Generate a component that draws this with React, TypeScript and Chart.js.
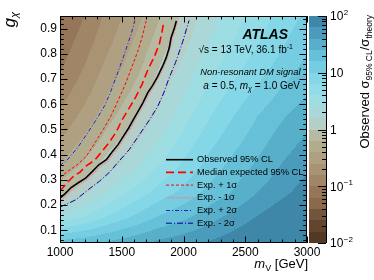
import React, { useEffect, useRef } from 'react';
import { Chart, registerables } from 'chart.js';

Chart.register(...registerables);

const FONT = '"Liberation Sans", Arial, Helvetica, sans-serif';

// Heat-map grid (observed sigma95 / sigma_theory)
const M_GRID = [1000, 1200, 1400, 1600, 1800, 2000, 2200, 2400, 2600, 2800, 3000];
const G_GRID = [0.05, 0.15, 0.25, 0.35, 0.45, 0.55, 0.65, 0.75, 0.85, 0.95];
const RATIO_G005 = [20, 23, 28, 35, 45, 54, 66, 83, 105, 126, 158];
const RATIO_G015 = [2.8, 4.2, 7.1, 11, 17, 23, 33, 47, 66, 91, 120];
const RATIO_G025 = [0.85, 1.45, 2.7, 4.6, 7.6, 11.5, 18, 26, 40, 56, 79];
const RATIO_G035 = [0.44, 0.74, 1.38, 2.3, 4.2, 7.1, 12, 19, 28, 42, 58];
const RATIO_G045 = [0.26, 0.45, 0.83, 1.45, 2.6, 4.8, 8.5, 13.5, 21, 32, 44];
const RATIO_G055 = [0.17, 0.3, 0.56, 0.95, 1.8, 3.3, 6.0, 10, 16, 24, 33];
const RATIO_G065 = [0.126, 0.21, 0.4, 0.69, 1.3, 2.4, 4.4, 7.1, 11, 17, 24];
const RATIO_G075 = [0.093, 0.16, 0.3, 0.51, 0.98, 1.8, 3.3, 5.2, 7.9, 12, 18];
const RATIO_G085 = [0.074, 0.126, 0.23, 0.41, 0.76, 1.35, 2.5, 4.0, 6.0, 9.3, 14];
const RATIO_G095 = [0.059, 0.1, 0.19, 0.32, 0.6, 1.1, 2.0, 3.2, 4.8, 7.6, 11];
const RATIO_ROWS = [RATIO_G005, RATIO_G015, RATIO_G025, RATIO_G035, RATIO_G045,
  RATIO_G055, RATIO_G065, RATIO_G075, RATIO_G085, RATIO_G095];

// Contours
const OBS_M = [1000, 1040, 1090, 1145, 1210, 1265, 1315, 1375, 1420, 1470, 1515, 1555, 1595, 1630, 1670, 1710, 1750, 1790, 1830, 1860, 1885, 1900, 1925, 1942];
const OBS_G = [0.228, 0.245, 0.27, 0.288, 0.308, 0.335, 0.36, 0.38, 0.41, 0.44, 0.475, 0.505, 0.54, 0.57, 0.605, 0.645, 0.675, 0.71, 0.75, 0.785, 0.825, 0.865, 0.9, 0.93];
const MED_M = [1000, 1050, 1110, 1160, 1210, 1280, 1335, 1400, 1455, 1505, 1560, 1615, 1665, 1710, 1765, 1805, 1825, 1842];
const MED_G = [0.256, 0.285, 0.315, 0.33, 0.355, 0.378, 0.41, 0.45, 0.49, 0.54, 0.585, 0.63, 0.68, 0.735, 0.79, 0.84, 0.885, 0.93];
const P1_M = [1000, 1065, 1145, 1215, 1280, 1350, 1415, 1470, 1525, 1580, 1630, 1670, 1697];
const P1_G = [0.31, 0.335, 0.362, 0.395, 0.445, 0.5, 0.556, 0.615, 0.675, 0.745, 0.81, 0.875, 0.93];
const M1_M = [1000, 1045, 1095, 1150, 1215, 1270, 1320, 1380, 1425, 1478, 1522, 1565, 1605, 1640, 1680, 1720, 1760, 1800, 1840, 1870, 1895, 1910, 1935, 1952];
const M1_G = [0.215, 0.235, 0.26, 0.28, 0.3, 0.325, 0.35, 0.372, 0.4, 0.432, 0.468, 0.5, 0.535, 0.565, 0.6, 0.64, 0.672, 0.708, 0.748, 0.785, 0.825, 0.865, 0.9, 0.93];
const P2_M = [1000, 1065, 1146, 1228, 1295, 1362, 1410, 1460, 1515, 1550, 1580, 1606];
const P2_G = [0.357, 0.383, 0.43, 0.49, 0.54, 0.595, 0.65, 0.715, 0.79, 0.84, 0.885, 0.932];
const M2_M = [1000, 1050, 1130, 1230, 1320, 1400, 1470, 1560, 1630, 1720, 1790, 1840, 1880, 1935, 1995, 2025, 2045];
const M2_G = [0.193, 0.203, 0.222, 0.262, 0.295, 0.33, 0.37, 0.42, 0.47, 0.535, 0.59, 0.645, 0.7, 0.765, 0.85, 0.9, 0.932];

const X_TICKS = [1000, 1500, 2000, 2500, 3000];
const X_TICK_LABELS = ['1000', '1500', '2000', '2500', '3000'];
const Y_TICKS = [0.1, 0.2, 0.3, 0.4, 0.5, 0.6, 0.7, 0.8, 0.9];
const Y_TICK_LABELS = ['0.1', '0.2', '0.3', '0.4', '0.5', '0.6', '0.7', '0.8', '0.9'];
const Z_TICKS = [0.01, 0.1, 1, 10, 100];
const Z_TICK_BASE = ['10', '10', '1', '10', '10'];
const Z_TICK_EXP = ['\u22122', '\u22121', '', '', '2'];

const PALETTE = [
  [82, 57, 37], [98, 69, 46], [115, 85, 60], [138, 105, 77], [150, 118, 89],
  [160, 133, 102], [168, 147, 114], [174, 160, 128], [178, 172, 143], [183, 186, 162],
  [182, 206, 200], [170, 216, 216], [158, 221, 226], [145, 220, 230], [132, 215, 230],
  [118, 205, 225], [102, 192, 215], [88, 175, 202], [75, 155, 188], [62, 135, 168],
];
const Z_MIN_LOG = -2;
const Z_STEP = 0.2;

function findCell(arr: number[], v: number) {
  let i = 0;
  while (i < arr.length - 2 && v > arr[i + 1]) i++;
  let t = (v - arr[i]) / (arr[i + 1] - arr[i]);
  t = Math.max(0, Math.min(1, t));
  return [i, t];
}

function logRatioAt(m: number, g: number) {
  const [i, tx] = findCell(M_GRID, m);
  const [j, ty] = findCell(G_GRID, g);
  const a = Math.log10(RATIO_ROWS[j][i]);
  const b = Math.log10(RATIO_ROWS[j][i + 1]);
  const c = Math.log10(RATIO_ROWS[j + 1][i]);
  const d = Math.log10(RATIO_ROWS[j + 1][i + 1]);
  return (a * (1 - tx) + b * tx) * (1 - ty) + (c * (1 - tx) + d * tx) * ty;
}

function bandColor(lv: number) {
  let k = Math.floor((lv - Z_MIN_LOG) / Z_STEP);
  k = Math.max(0, Math.min(PALETTE.length - 1, k));
  const c = PALETTE[k];
  return `rgb(${c[0]},${c[1]},${c[2]})`;
}

type Seg = { t: string; size: number; italic?: boolean; bold?: boolean; dy?: number };

function segFont(s: Seg) {
  return `${s.italic ? 'italic ' : ''}${s.bold ? 'bold ' : ''}${s.size}px ${FONT}`;
}

function drawRich(ctx: CanvasRenderingContext2D, segs: Seg[], xEnd: number, y: number) {
  let total = 0;
  const widths = segs.map((s) => {
    ctx.font = segFont(s);
    const w = ctx.measureText(s.t).width;
    total += w;
    return w;
  });
  let x = xEnd - total;
  ctx.textAlign = 'left';
  ctx.textBaseline = 'alphabetic';
  segs.forEach((s, i) => {
    ctx.font = segFont(s);
    ctx.fillText(s.t, x, y + (s.dy || 0));
    x += widths[i];
  });
}

const heatmapPlugin = {
  id: 'heatmap',
  beforeDatasetsDraw(chart: any) {
    const { ctx, chartArea, scales } = chart;
    const x = scales.x;
    const y = scales.y;
    const L = Math.round(chartArea.left), R = Math.round(chartArea.right);
    const T = Math.round(chartArea.top), B = Math.round(chartArea.bottom);
    ctx.save();
    for (let py = T; py < B; py++) {
      const g = y.getValueForPixel(py + 0.5);
      let runStart = L;
      let runColor = '';
      for (let px = L; px <= R; px++) {
        let col = '';
        if (px < R) {
          const m = x.getValueForPixel(px + 0.5);
          col = bandColor(logRatioAt(m, g));
        }
        if (col !== runColor) {
          if (runColor) {
            ctx.fillStyle = runColor;
            ctx.fillRect(runStart, py, px - runStart, 1);
          }
          runColor = col;
          runStart = px;
        }
      }
    }
    ctx.restore();
  },
};

const decorPlugin = {
  id: 'decor',
  afterDatasetsDraw(chart: any) {
    const { ctx, chartArea, scales } = chart;
    const x = scales.x, y = scales.y, z = scales.z;
    const L = Math.round(chartArea.left), R = Math.round(chartArea.right);
    const T = Math.round(chartArea.top), B = Math.round(chartArea.bottom);
    ctx.save();
    ctx.strokeStyle = '#000';
    ctx.lineWidth = 1;
    ctx.setLineDash([]);
    // frame
    ctx.strokeRect(L + 0.5, T + 0.5, R - L - 1, B - T - 1);
    ctx.beginPath();
    // x ticks
    for (let v = 1000; v <= 3000; v += 100) {
      const px = Math.round(x.getPixelForValue(v)) + 0.5;
      const len = v % 500 === 0 ? 6.5 : 3.5;
      ctx.moveTo(px, B); ctx.lineTo(px, B - len);
      ctx.moveTo(px, T); ctx.lineTo(px, T + len);
    }
    // y ticks
    for (let k = 3; k <= 47; k++) {
      const v = k * 0.02;
      const py = Math.round(y.getPixelForValue(v)) + 0.5;
      const len = k % 5 === 0 ? 7.5 : 3.8;
      ctx.moveTo(L, py); ctx.lineTo(L + len, py);
      ctx.moveTo(R, py); ctx.lineTo(R - len, py);
    }
    ctx.stroke();

    // colour bar
    const cbL = 309, cbR = 326;
    for (let k = 0; k < PALETTE.length; k++) {
      const y0 = z.getPixelForValue(Math.pow(10, Z_MIN_LOG + Z_STEP * k));
      const y1 = z.getPixelForValue(Math.pow(10, Z_MIN_LOG + Z_STEP * (k + 1)));
      const c = PALETTE[k];
      ctx.fillStyle = `rgb(${c[0]},${c[1]},${c[2]})`;
      ctx.fillRect(cbL, Math.round(y1), cbR - cbL, Math.round(y0) - Math.round(y1));
    }
    ctx.beginPath();
    ctx.strokeStyle = '#000';
    ctx.moveTo(cbR + 0.5, T); ctx.lineTo(cbR + 0.5, B);
    for (let e = -2; e < 2; e++) {
      for (let mlt = 1; mlt < 10; mlt++) {
        const v = mlt * Math.pow(10, e);
        const py = Math.round(z.getPixelForValue(v)) + 0.5;
        const len = mlt === 1 ? 8 : 4;
        ctx.moveTo(cbR, py); ctx.lineTo(cbR - len, py);
      }
    }
    const pyTop = Math.round(z.getPixelForValue(100)) + 0.5;
    ctx.moveTo(cbR, pyTop); ctx.lineTo(cbR - 8, pyTop);
    ctx.stroke();

    // colour bar labels
    ctx.fillStyle = '#000';
    Z_TICKS.forEach((v, i) => {
      const py = z.getPixelForValue(v);
      ctx.font = `12px ${FONT}`;
      ctx.textAlign = 'left';
      ctx.textBaseline = 'middle';
      ctx.fillText(Z_TICK_BASE[i], 330, py + 1);
      const w = ctx.measureText(Z_TICK_BASE[i]).width;
      if (Z_TICK_EXP[i]) {
        ctx.font = `8px ${FONT}`;
        ctx.fillText(Z_TICK_EXP[i], 330 + w + 0.5, py - 3.5);
      }
    });

    // colour bar title (rotated)
    ctx.save();
    ctx.translate(369, 15);
    ctx.rotate(-Math.PI / 2);
    drawRich(ctx, [
      { t: 'Observed ', size: 13 },
      { t: '\u03c3', size: 13 },
      { t: '95% CL', size: 8.5, dy: 3 },
      { t: '/', size: 13 },
      { t: '\u03c3', size: 13 },
      { t: 'theory', size: 8.5, dy: 3 },
    ], 0, 0);
    ctx.restore();

    // y title
    ctx.save();
    ctx.translate(15, 12);
    ctx.rotate(-Math.PI / 2);
    drawRich(ctx, [
      { t: 'g', size: 17, italic: true },
      { t: '\u03c7', size: 11, italic: true, dy: 3 },
    ], 0, 0);
    ctx.restore();

    // x title
    drawRich(ctx, [
      { t: 'm', size: 13, italic: true },
      { t: 'V', size: 9, dy: 3 },
      { t: ' [GeV]', size: 13 },
    ], 308, 268);

    // labels
    drawRich(ctx, [{ t: 'ATLAS', size: 14, italic: true, bold: true }], 288, 39);
    drawRich(ctx, [
      { t: '\u221as = 13 TeV, 36.1 fb', size: 10 },
      { t: '-1', size: 7, dy: -4 },
    ], 293, 52.5);
    drawRich(ctx, [{ t: 'Non-resonant DM signal', size: 9.3, italic: true }], 300.5, 75);
    drawRich(ctx, [
      { t: 'a', size: 10, italic: true },
      { t: ' = 0.5, ', size: 10 },
      { t: 'm', size: 10, italic: true },
      { t: '\u03c7', size: 7, italic: true, dy: 2 },
      { t: ' = 1.0 GeV', size: 10 },
    ], 300, 89);

    // legend
    chart.data.datasets.forEach((ds: any, i: number) => {
      const ly = 159.7 + i * 12.7;
      ctx.beginPath();
      ctx.strokeStyle = ds.borderColor;
      ctx.lineWidth = ds.borderWidth;
      ctx.setLineDash(ds.borderDash || []);
      ctx.moveTo(166, ly); ctx.lineTo(193, ly);
      ctx.stroke();
      ctx.setLineDash([]);
      ctx.fillStyle = '#000';
      ctx.font = `9.3px ${FONT}`;
      ctx.textAlign = 'left';
      ctx.textBaseline = 'middle';
      ctx.fillText(ds.label, 197, ly);
    });
    ctx.restore();
  },
};

function toPoints(ms: number[], gs: number[]) {
  return ms.map((m, i) => ({ x: m, y: gs[i] }));
}

export default function App() {
  const ref = useRef<HTMLCanvasElement | null>(null);
  useEffect(() => {
    document.body.style.margin = '0';
    const canvas = ref.current;
    if (!canvas) return;
    const lineDs = (label: string, ms: number[], gs: number[], color: string, width: number, dash: number[]) => ({
      label,
      data: toPoints(ms, gs),
      showLine: true,
      borderColor: color,
      backgroundColor: color,
      borderWidth: width,
      borderDash: dash,
      pointRadius: 0,
      fill: false,
      tension: 0,
    });
    const chart = new Chart(canvas, {
      type: 'scatter',
      data: {
        datasets: [
          lineDs('Observed 95% CL', OBS_M, OBS_G, '#000000', 1.6, []),
          lineDs('Median expected 95% CL', MED_M, MED_G, '#ff0000', 1.6, [8, 4]),
          lineDs('Exp. + 1\u03c3', P1_M, P1_G, '#ff0000', 1, [3, 2]),
          lineDs('Exp. - 1\u03c3', M1_M, M1_G, '#f08080', 1.5, [1, 1]),
          lineDs('Exp. + 2\u03c3', P2_M, P2_G, '#2020d0', 1, [4, 2, 1, 2]),
          lineDs('Exp. - 2\u03c3', M2_M, M2_G, '#0000a0', 1, [6, 2, 1, 2]),
        ],
      },
      options: {
        animation: false,
        responsive: false,
        devicePixelRatio: 1,
        events: [],
        layout: { padding: { top: 16, left: 0, right: 0, bottom: 0 } },
        plugins: { legend: { display: false }, tooltip: { enabled: false } },
        scales: {
          x: {
            type: 'linear', position: 'bottom', min: 1000, max: 3000,
            afterBuildTicks: (s: any) => { s.ticks = X_TICKS.map((v) => ({ value: v })); },
            afterFit: (s: any) => { s.height = 37; },
            grid: { display: false, drawTicks: false },
            border: { display: false },
            ticks: {
              callback: (_v: any, i: number) => X_TICK_LABELS[i],
              font: { family: FONT, size: 12 }, color: '#000', padding: 2,
              maxRotation: 0, autoSkip: false,
            },
          },
          y: {
            type: 'linear', position: 'left', min: 0.05, max: 0.95,
            afterBuildTicks: (s: any) => { s.ticks = Y_TICKS.map((v) => ({ value: v })); },
            afterFit: (s: any) => { s.width = 60; },
            grid: { display: false, drawTicks: false },
            border: { display: false },
            ticks: {
              callback: (_v: any, i: number) => Y_TICK_LABELS[i],
              font: { family: FONT, size: 12 }, color: '#000', padding: 3,
              autoSkip: false,
            },
          },
          z: {
            type: 'logarithmic', position: 'right', min: 0.01, max: 100,
            afterBuildTicks: (s: any) => { s.ticks = Z_TICKS.map((v) => ({ value: v })); },
            afterFit: (s: any) => { s.width = 67; },
            grid: { display: false, drawTicks: false },
            border: { display: false },
            ticks: { display: false },
          },
        },
      } as any,
      plugins: [heatmapPlugin, decorPlugin],
    });
    return () => chart.destroy();
  }, []);
  return (
    <div style={{ position: 'absolute', left: 0, top: 0 }}>
      <canvas ref={ref} width={374} height={280} style={{ display: 'block' }} />
    </div>
  );
}
